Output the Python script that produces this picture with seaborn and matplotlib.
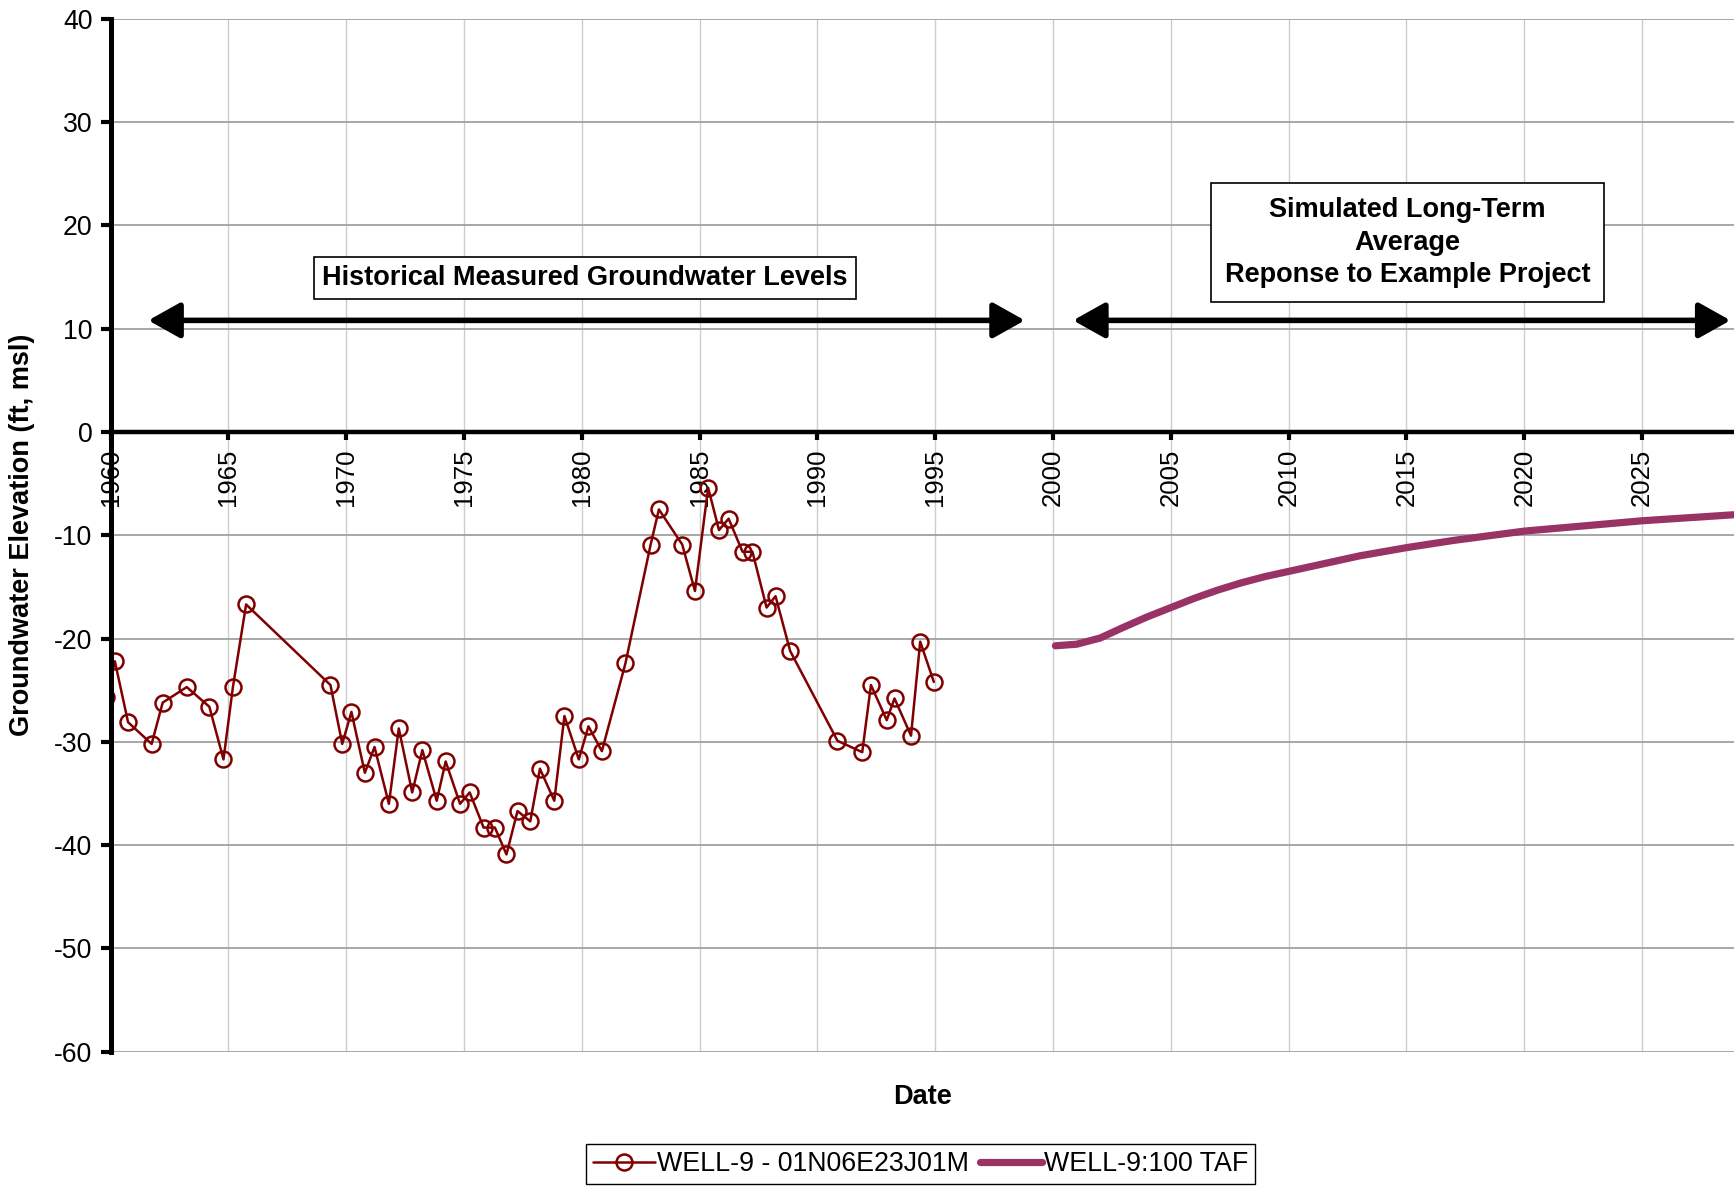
import matplotlib
matplotlib.use("Agg")
import matplotlib.pyplot as plt
import seaborn as sns
import pandas as pd

# --------- Datos ---------
# niveles medidos (año decimal, elevación ft msl)
anio_medido = [
    1959.8, 1960.18, 1960.74, 1961.74, 1962.21, 1963.23, 1964.19, 1964.79, 1965.19, 1965.75,
    1969.33, 1969.83, 1970.22, 1970.79, 1971.2, 1971.81, 1972.23, 1972.8, 1973.23, 1973.84,
    1974.22, 1974.83, 1975.24, 1975.83, 1976.31, 1976.8, 1977.27, 1977.81, 1978.22, 1978.83,
    1979.26, 1979.87, 1980.28, 1980.85, 1981.85, 1982.92, 1983.27, 1984.26, 1984.8, 1985.36,
    1985.82, 1986.23, 1986.82, 1987.24, 1987.84, 1988.22, 1988.84, 1990.85, 1991.9, 1992.27,
    1992.94, 1993.27, 1993.97, 1994.36, 1994.94,
]
nivel_medido = [
    -25.7, -22.2, -28.1, -30.2, -26.2, -24.7, -26.6, -31.7, -24.7, -16.7,
    -24.5, -30.2, -27.1, -33.0, -30.5, -36.0, -28.7, -34.9, -30.8, -35.7,
    -31.9, -36.0, -34.9, -38.3, -38.3, -40.9, -36.7, -37.7, -32.6, -35.7,
    -27.5, -31.7, -28.5, -30.9, -22.4, -10.9, -7.5, -10.9, -15.4, -5.4,
    -9.5, -8.4, -11.6, -11.6, -17.0, -15.9, -21.2, -29.9, -31.0, -24.5,
    -27.9, -25.8, -29.4, -20.3, -24.2,
]

# respuesta simulada
anio_simulado = [
    2000.1, 2001, 2002, 2003, 2004, 2005, 2006, 2007, 2008, 2009,
    2010, 2011, 2012, 2013, 2014, 2015, 2016, 2017, 2018, 2019,
    2020, 2021, 2022, 2023, 2024, 2025, 2026, 2027, 2028, 2029,
]
nivel_simulado = [
    -20.7, -20.55, -19.95, -18.9, -17.9, -17.0, -16.1, -15.3, -14.6, -14.0,
    -13.5, -13.0, -12.5, -12.0, -11.6, -11.2, -10.85, -10.5, -10.2, -9.9,
    -9.6, -9.4, -9.2, -9.0, -8.8, -8.6, -8.45, -8.3, -8.15, -8.0,
]

ticks_anio = list(range(1960, 2026, 5))
ticks_nivel = list(range(-60, 41, 10))

df_medido = pd.DataFrame({"anio": anio_medido, "nivel": nivel_medido})
df_simulado = pd.DataFrame({"anio": anio_simulado, "nivel": nivel_simulado})

# --------- Estilo ---------
sns.set_style("white")
plt.rcParams["font.family"] = ["Liberation Sans", "DejaVu Sans"]
plt.rcParams["axes.unicode_minus"] = False
plt.rcParams["text.color"] = "black"
plt.rcParams["axes.labelcolor"] = "black"
plt.rcParams["xtick.color"] = "black"
plt.rcParams["ytick.color"] = "black"
plt.rcParams["axes.edgecolor"] = "black"

fig = plt.figure(figsize=(17.34, 11.86), dpi=100)
ax = fig.add_axes([0.0638, 0.1132, 0.9362, 0.871])

sns.lineplot(data=df_medido, x="anio", y="nivel", ax=ax, color="#800000",
             linewidth=1.8, marker="o", markersize=11.5, markerfacecolor="none",
             markeredgecolor="#800000", markeredgewidth=1.8,
             estimator=None, sort=False, label="WELL-9 - 01N06E23J01M")
sns.lineplot(data=df_simulado, x="anio", y="nivel", ax=ax, color="#993366",
             linewidth=5.2, solid_capstyle="round",
             estimator=None, sort=False, label="WELL-9:100 TAF")

# ejes
ax.spines["top"].set_visible(False)
ax.spines["right"].set_visible(False)
ax.spines["bottom"].set_position(("data", 0))
ax.spines["bottom"].set_linewidth(3.2)
ax.spines["left"].set_linewidth(3.6)
ax.spines["bottom"].set_zorder(3)
ax.spines["left"].set_zorder(3)

ax.set_xlim(1960, 2028.9)
ax.set_ylim(-60, 40)
ax.set_xticks(ticks_anio)
ax.set_yticks(ticks_nivel)
ax.tick_params(axis="x", direction="out", length=6, width=3, pad=6,
               labelsize=18.5, bottom=True, labelrotation=90)
ax.tick_params(axis="y", direction="out", length=7, width=3, pad=6,
               labelsize=19.2, left=True)

# rejilla
ax.grid(True, axis="y", color="#a0a0a0", linewidth=1.3)
ax.grid(True, axis="x", color="#cccccc", linewidth=1.0)
ax.set_axisbelow(True)

ax.set_ylabel("Groundwater Elevation (ft, msl)", fontsize=19.5, fontweight="bold")
ax.yaxis.set_label_coords(-0.0547, 0.5)
ax.yaxis.label.set_va("center")
ax.set_xlabel("Date", fontsize=19.5, fontweight="bold")
ax.xaxis.set_label_coords(0.5, -0.0439)
ax.xaxis.label.set_va("center")

# flechas y cajas de texto
estilo_flecha = "<|-|>,head_length=0.75,head_width=0.42"
ax.annotate("", xy=(1961.6, 10.8), xytext=(1998.8, 10.8),
            arrowprops=dict(arrowstyle=estilo_flecha, mutation_scale=26, lw=4,
                            color="black", shrinkA=0, shrinkB=0))
ax.annotate("", xy=(2000.85, 10.8), xytext=(2028.75, 10.8),
            arrowprops=dict(arrowstyle=estilo_flecha, mutation_scale=26, lw=4,
                            color="black", shrinkA=0, shrinkB=0))

ax.text(1980.14, 14.9, "Historical Measured Groundwater Levels", fontsize=19.5,
        fontweight="bold", ha="center", va="center",
        bbox=dict(boxstyle="square,pad=0.3", fc="white", ec="black", lw=1.2))
ax.text(2015.05, 18.33, "Simulated Long-Term\nAverage\nReponse to Example Project",
        fontsize=19.5, fontweight="bold", ha="center", va="center",
        multialignment="center", linespacing=1.33,
        bbox=dict(boxstyle="square,pad=0.5", fc="white", ec="black", lw=1.2))

# leyenda
ax.get_legend().remove()
h, l = ax.get_legend_handles_labels()
fig.legend(h, l, loc="center", bbox_to_anchor=(0.531, 0.0185), ncol=2,
           fontsize=19.3, frameon=True, fancybox=False, edgecolor="black",
           framealpha=1, handlelength=2.3, handletextpad=0.1,
           columnspacing=0.4, borderpad=0.25)

fig.savefig("out.png", dpi=100)
